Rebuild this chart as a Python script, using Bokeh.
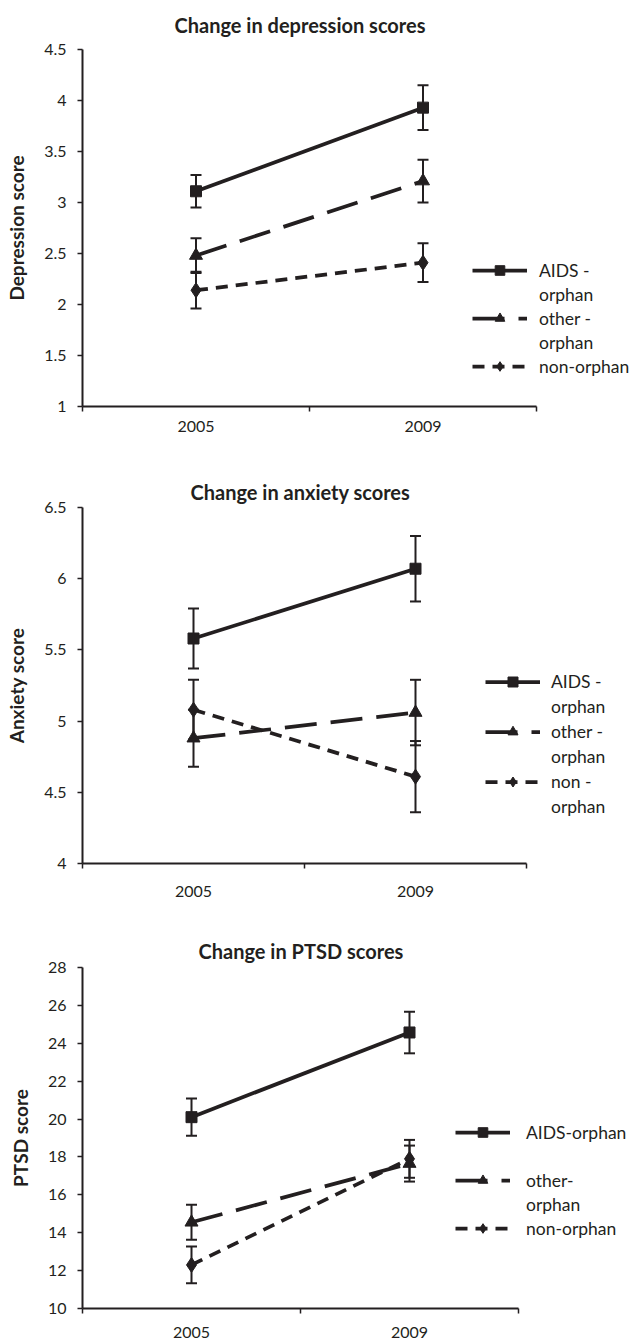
from bokeh.plotting import figure
from bokeh.models import (ColumnDataSource, Whisker, TeeHead, FixedTicker, Range1d,
                          Legend, LegendItem, NumeralTickFormatter)
from bokeh.layouts import column
from bokeh.embed import file_html
from bokeh.resources import INLINE

# ---------------- data ----------------
years = ["2005", "2009"]

dep_ticks = [1, 1.5, 2, 2.5, 3, 3.5, 4, 4.5]
dep_aids = [3.11, 3.93]
dep_aids_err = [0.16, 0.22]
dep_other = [2.48, 3.21]
dep_other_err = [0.17, 0.21]
dep_non = [2.14, 2.41]
dep_non_err = [0.18, 0.19]
dep_legend = [("AIDS -", 0), ("orphan", None), ("other -", 1), ("orphan", None), ("non-orphan", 2)]

anx_ticks = [4, 4.5, 5, 5.5, 6, 6.5]
anx_aids = [5.58, 6.07]
anx_aids_err = [0.21, 0.23]
anx_other = [4.88, 5.06]
anx_other_err = [0.20, 0.23]
anx_non = [5.08, 4.61]
anx_non_err = [0.21, 0.25]
anx_legend = [("AIDS -", 0), ("orphan", None), ("other -", 1), ("orphan", None),
              ("non -", 2), ("orphan", None)]

ptsd_ticks = [10, 12, 14, 16, 18, 20, 22, 24, 26, 28]
ptsd_aids = [20.1, 24.57]
ptsd_aids_err = [0.98, 1.1]
ptsd_other = [14.55, 17.65]
ptsd_other_err = [0.92, 0.95]
ptsd_non = [12.3, 17.9]
ptsd_non_err = [0.97, 1.0]
ptsd_legend = [("AIDS-orphan", 0), ("", None), ("other-", 1), ("orphan", None), ("non-orphan", 2)]

# ---------------- style ----------------
INK = "#231f20"
FONT = "Lato"
BORDER_L = 82
FRAME_W = 633 - BORDER_L
STYLES = [dict(dash="solid", marker="square", size=11),
          dict(dash="32 14", marker="triangle", size=13),
          dict(dash="12 8", marker="diamond", size=15)]


def make_panel(title, ylabel, yticks, series, legend_rows, frame_h, axis_len,
               b_top, b_bottom, title_offset, title_standoff, title_valign, xlab_standoff,
               legend_xy, legend_row_h, legend_standoff):
    n = len(years)
    xs = [2 * i + 1 for i in range(n)]
    x_end = 2 * n * FRAME_W / axis_len
    p = figure(frame_width=FRAME_W, frame_height=frame_h, output_backend="svg",
               toolbar_location=None,
               x_range=Range1d(0, x_end), y_range=Range1d(min(yticks), max(yticks)),
               min_border_left=BORDER_L, min_border_right=0,
               min_border_top=b_top, min_border_bottom=b_bottom)
    p.grid.visible = False
    p.outline_line_color = None

    p.title.text = title
    p.title.align = "left"
    p.title.vertical_align = title_valign
    p.title.text_font = FONT
    p.title.text_font_size = "20px"
    p.title.text_font_style = "bold"
    p.title.text_color = INK
    p.title.offset = title_offset
    p.title.standoff = title_standoff

    xa = p.xaxis[0]
    xa.bounds = (0, 2 * n)
    xa.ticker = FixedTicker(ticks=xs, minor_ticks=[2 * i for i in range(n + 1)])
    xa.major_label_overrides = {x: y for x, y in zip(xs, years)}
    xa.major_tick_out = 0
    xa.major_tick_in = 0
    xa.minor_tick_out = 5
    xa.minor_tick_in = 0
    xa.minor_tick_line_color = INK
    xa.minor_tick_line_width = 1.5
    xa.axis_line_color = INK
    xa.axis_line_width = 2
    xa.major_label_text_font = FONT
    xa.major_label_text_font_size = "16px"
    xa.major_label_text_color = INK
    xa.major_label_standoff = xlab_standoff

    ya = p.yaxis[0]
    ya.ticker = FixedTicker(ticks=yticks, minor_ticks=[])
    ya.formatter = NumeralTickFormatter(format="0.[0]")
    ya.major_tick_out = 5
    ya.major_tick_in = 0
    ya.minor_tick_out = 0
    ya.minor_tick_in = 0
    ya.major_tick_line_color = INK
    ya.major_tick_line_width = 1.5
    ya.axis_line_color = INK
    ya.axis_line_width = 2
    ya.major_label_text_font = FONT
    ya.major_label_text_font_size = "16px"
    ya.major_label_text_color = INK
    ya.major_label_standoff = 11
    ya.axis_label = ylabel
    ya.axis_label_text_font = FONT
    ya.axis_label_text_font_size = "19px"
    ya.axis_label_text_font_style = "bold"
    ya.axis_label_text_color = INK
    ya.axis_label_standoff = 13

    renderers = []
    for (means, errs), st in zip(series, STYLES):
        src = ColumnDataSource(dict(x=xs, y=means,
                                    lower=[m - e for m, e in zip(means, errs)],
                                    upper=[m + e for m, e in zip(means, errs)]))
        w = Whisker(source=src, base="x", lower="lower", upper="upper",
                    line_color=INK, line_width=2, level="glyph",
                    upper_head=TeeHead(size=11, line_color=INK, line_width=2),
                    lower_head=TeeHead(size=11, line_color=INK, line_width=2))
        p.add_layout(w)
        lr = p.line("x", "y", source=src, line_width=3.75, line_color=INK, line_dash=st["dash"])
        sr = p.scatter("x", "y", source=src, marker=st["marker"], size=st["size"],
                       fill_color=INK, line_color=INK)
        renderers.append([lr, sr])

    blank = p.line(x=[], y=[], line_alpha=0)
    items = []
    for label, idx in legend_rows:
        rs = renderers[idx] if idx is not None else [blank]
        items.append(LegendItem(label=label, renderers=rs))
    lg = Legend(items=items, location=legend_xy, orientation="vertical", padding=0, margin=0,
                spacing=0, border_line_alpha=0, background_fill_alpha=0,
                label_text_font=FONT, label_text_font_size="17.5px", label_text_color=INK,
                glyph_width=55, glyph_height=legend_row_h, label_height=legend_row_h,
                label_standoff=legend_standoff)
    p.add_layout(lg)
    return p


p1 = make_panel("Change in depression scores", "Depression score", dep_ticks,
                [(dep_aids, dep_aids_err), (dep_other, dep_other_err), (dep_non, dep_non_err)],
                dep_legend, frame_h=357, axis_len=454, b_top=49, b_bottom=45,
                title_offset=92, title_standoff=22, title_valign="top", xlab_standoff=9,
                legend_xy=(390, 28), legend_row_h=24, legend_standoff=12)
p2 = make_panel("Change in anxiety scores", "Anxiety score", anx_ticks,
                [(anx_aids, anx_aids_err), (anx_other, anx_other_err), (anx_non, anx_non_err)],
                anx_legend, frame_h=356, axis_len=444, b_top=56, b_bottom=42,
                title_offset=108, title_standoff=8, title_valign="bottom", xlab_standoff=17,
                legend_xy=(403, 44), legend_row_h=25, legend_standoff=11)
p3 = make_panel("Change in PTSD scores", "PTSD score", ptsd_ticks,
                [(ptsd_aids, ptsd_aids_err), (ptsd_other, ptsd_other_err), (ptsd_non, ptsd_non_err)],
                ptsd_legend, frame_h=341, axis_len=436, b_top=62, b_bottom=35,
                title_offset=116, title_standoff=10, title_valign="bottom", xlab_standoff=13,
                legend_xy=(373, 68), legend_row_h=24, legend_standoff=16)

layout = column(p1, p2, p3, spacing=0)
open("out.html", "w").write(file_html(layout, INLINE))
